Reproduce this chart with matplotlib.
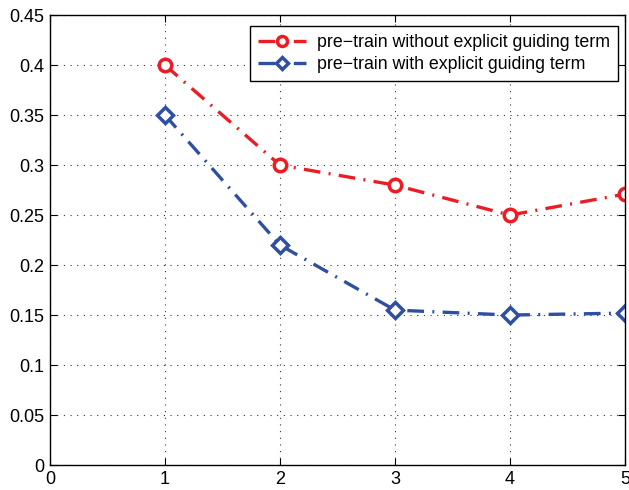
import matplotlib
matplotlib.use('Agg')
import matplotlib.pyplot as plt

plt.rcParams['font.family'] = ['Liberation Sans', 'DejaVu Sans']

x = [1, 2, 3, 4, 5]
without_guide = [0.40, 0.30, 0.28, 0.25, 0.271]
with_guide = [0.35, 0.22, 0.155, 0.15, 0.152]
labels = ['pre\u2212train without explicit guiding term',
          'pre\u2212train with explicit guiding term']

red = '#ec1c24'
blue = '#2f4fa0'

fig = plt.figure(figsize=(6.29, 4.90), dpi=100)
ax = fig.add_axes([0.0795, 0.051, 0.914, 0.918])

dash = (0, (5, 2.5, 0.6, 2.5))
ax.plot(x, without_guide, color=red, lw=2.4, linestyle=dash, marker='o',
        ms=9, mew=2.5, mfc='white', mec=red, label=labels[0])
ax.plot(x, with_guide, color=blue, lw=2.4, linestyle=dash, marker='D',
        ms=8, mew=2.5, mfc='white', mec=blue, label=labels[1])

ax.set_xlim(0, 5)
ax.set_ylim(0, 0.45)
ax.set_xticks([0, 1, 2, 3, 4, 5])
ax.set_yticks([0, 0.05, 0.1, 0.15, 0.2, 0.25, 0.3, 0.35, 0.4, 0.45])
ax.set_yticklabels(['0', '0.05', '0.1', '0.15', '0.2', '0.25', '0.3', '0.35', '0.4', '0.45'])
ax.tick_params(direction='in', labelsize=13, length=5, top=True, right=True, pad=4)
ax.grid(True, color='#333333', linestyle=(0, (1, 5)), linewidth=0.8)
for s in ax.spines.values():
    s.set_linewidth(1.0)

leg = ax.legend(loc='upper right', bbox_to_anchor=(0.988, 0.976), fontsize=12.8,
                fancybox=False, framealpha=1, edgecolor='black', borderaxespad=0,
                handlelength=2.7, handletextpad=0.6, borderpad=0.45,
                labelspacing=0.3, markerscale=0.8)
leg.get_frame().set_linewidth(1.0)

fig.savefig('out.png', dpi=100)
